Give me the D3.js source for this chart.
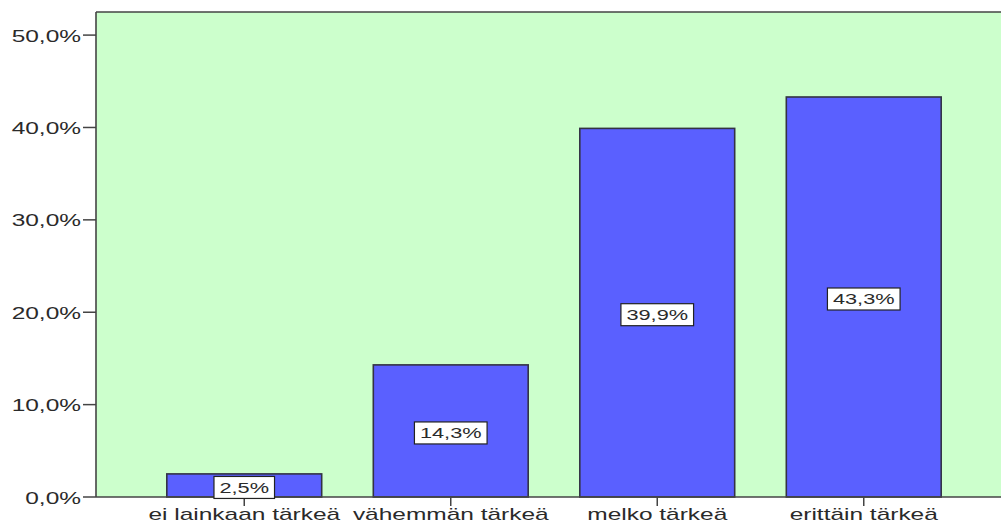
<!DOCTYPE html>
<html><head><meta charset="utf-8">
<script src="https://cdn.jsdelivr.net/npm/d3@7"></script>
<style>
html,body{margin:0;padding:0;background:#fff;}
svg{display:block;}
text{font-family:"Liberation Sans",Arial,sans-serif;fill:#2a2a2a;}
</style></head>
<body>
<script>
const categories = ["ei lainkaan tärkeä", "vähemmän tärkeä", "melko tärkeä", "erittäin tärkeä"];
const values = [2.5, 14.3, 39.9, 43.3];
const yTicks = [0, 10, 20, 30, 40, 50];

const W = 1001, H = 526;
const plot = {left: 96, top: 12, right: 1001, bottom: 497};
const SX = 1.53;

const svg = d3.select("body").append("svg").attr("width", W).attr("height", H);

const x = d3.scaleBand().domain(categories).range([141, 967]).paddingInner(0.25).paddingOuter(0.125);
const y = d3.scaleLinear().domain([0, 52.5]).range([plot.bottom, plot.top]);
const fmt = v => d3.format(".1f")(v).replace(".", ",") + "%";

svg.append("rect").attr("x", plot.left).attr("y", plot.top)
  .attr("width", plot.right - plot.left).attr("height", plot.bottom - plot.top)
  .attr("fill", "#ccffcc");

function stext(g, tx, ty, str, anchor, size, sx) {
  return g.append("text").attr("transform", `translate(${tx},${ty}) scale(${sx},1)`)
    .attr("text-anchor", anchor).attr("font-size", size).text(str);
}

// bars
svg.selectAll("rect.bar").data(values).enter().append("rect").attr("class", "bar")
  .attr("x", (d, i) => x(categories[i])).attr("width", x.bandwidth())
  .attr("y", d => y(d)).attr("height", d => y(0) - y(d))
  .attr("fill", "#5a60ff").attr("stroke", "#333344").attr("stroke-width", 1.6);

// frame lines
const frame = svg.append("g").attr("stroke", "#444").attr("stroke-width", 1.6);
frame.append("line").attr("x1", plot.left).attr("x2", plot.right).attr("y1", plot.top).attr("y2", plot.top);
frame.append("line").attr("x1", plot.left).attr("x2", plot.left).attr("y1", plot.top).attr("y2", plot.bottom);
frame.append("line").attr("x1", plot.left).attr("x2", plot.right).attr("y1", plot.bottom).attr("y2", plot.bottom);

// y axis
const yAxis = svg.append("g");
yTicks.forEach(t => {
  yAxis.append("line").attr("x1", plot.left - 13).attr("x2", plot.left).attr("y1", y(t)).attr("y2", y(t))
    .attr("stroke", "#444").attr("stroke-width", 1.5);
  stext(yAxis, plot.left - 15, y(t) + 6.5, fmt(t), "end", 16, SX);
});

// x axis
const xAxis = svg.append("g");
categories.forEach(c => {
  const cx = x(c) + x.bandwidth() / 2;
  xAxis.append("line").attr("x1", cx).attr("x2", cx).attr("y1", plot.bottom).attr("y2", plot.bottom + 9)
    .attr("stroke", "#444").attr("stroke-width", 1.5);
  stext(xAxis, cx, 520, c, "middle", 16, SX);
});

// value labels
const lab = svg.append("g");
values.forEach((v, i) => {
  const cx = x(categories[i]) + x.bandwidth() / 2;
  const cy = y(v / 2) + 2;
  const g = lab.append("g");
  const r = g.append("rect").attr("fill", "#fff").attr("stroke", "#222").attr("stroke-width", 1.2);
  const t = stext(g, cx, cy + 5.5, fmt(v), "middle", 15, 1.45);
  const bw = t.node().getBBox().width * 1.45 + 11;
  r.attr("x", cx - bw / 2).attr("y", cy - 11).attr("width", bw).attr("height", 22);
});
</script>
</body></html>
